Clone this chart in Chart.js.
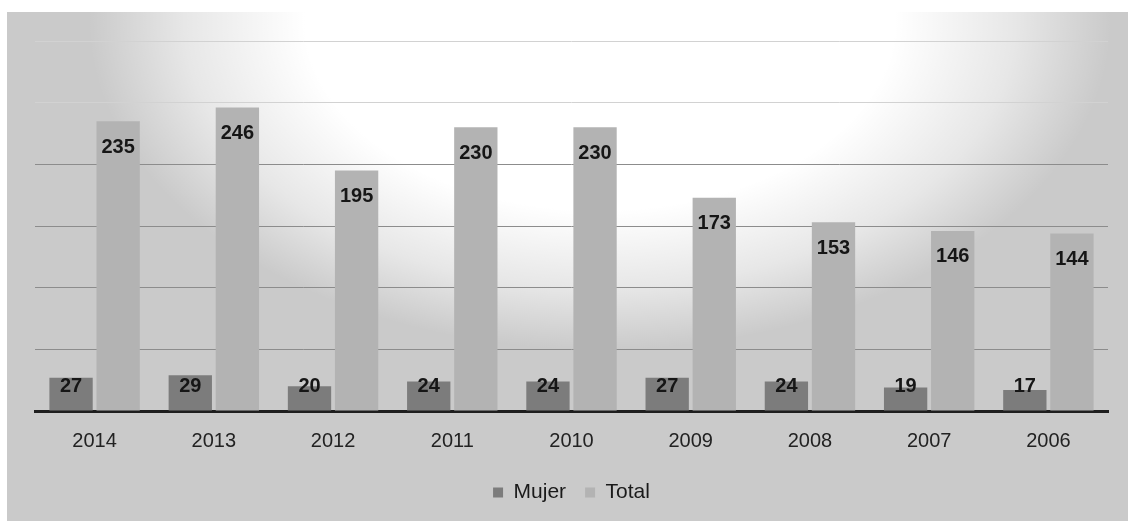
<html lang="es">
<head>
    <meta charset="UTF-8">
    <title>Mujer / Total</title>
    <script src="https://cdn.jsdelivr.net/npm/chart.js"></script>
    <style>
        body {
            margin: 0;
            padding: 0;
            background: #ffffff;
        }
        .wrap {
            width: 1128px;
            height: 521px;
        }
    </style>
</head>
<body>
    <div class="wrap">
        <canvas id="chart"></canvas>
    </div>

    <script>
        const years = ['2014', '2013', '2012', '2011', '2010', '2009', '2008', '2007', '2006'];
        const mujer = [27, 29, 20, 24, 24, 27, 24, 19, 17];
        const total = [235, 246, 195, 230, 230, 173, 153, 146, 144];
        const yTicks = [0, 50, 100, 150, 200, 250, 300];

        // scanned-paper look: grey sheet with a lighter patch up top
        const paper = {
            id: 'paper',
            beforeDraw(chart) {
                const ctx = chart.ctx;
                const w = chart.width, h = chart.height;
                ctx.save();
                ctx.fillStyle = '#ffffff';
                ctx.fillRect(0, 0, w, h);
                ctx.fillStyle = '#cacaca';
                ctx.fillRect(7, 12, w - 7, h - 12);
                ctx.beginPath();
                ctx.rect(7, 12, w - 7, h - 12);
                ctx.clip();
                // wide ellipse: squash the radial gradient vertically
                ctx.translate(600, 20);
                ctx.scale(1.55, 1);
                const g = ctx.createRadialGradient(0, 0, 20, 0, 0, 330);
                g.addColorStop(0, 'rgba(255,255,255,1)');
                g.addColorStop(0.55, 'rgba(255,255,255,1)');
                g.addColorStop(0.8, 'rgba(255,255,255,0.55)');
                g.addColorStop(1, 'rgba(255,255,255,0)');
                ctx.fillStyle = g;
                ctx.fillRect(-400, -40, 800, 400);
                ctx.restore();
            }
        };

        // value labels inside the top of each bar
        const barLabels = {
            id: 'barLabels',
            afterDatasetsDraw(chart) {
                const ctx = chart.ctx;
                ctx.save();
                ctx.font = 'bold 20px "Liberation Sans", Arial, sans-serif';
                ctx.fillStyle = '#161616';
                ctx.textAlign = 'center';
                ctx.textBaseline = 'middle';
                chart.data.datasets.forEach((ds, i) => {
                    chart.getDatasetMeta(i).data.forEach((bar, j) => {
                        const y = Math.min(bar.y + 26, bar.base - 24);
                        ctx.fillText(ds.data[j], bar.x, y);
                    });
                });
                ctx.restore();
            }
        };

        new Chart(document.getElementById('chart'), {
            type: 'bar',
            data: {
                labels: years,
                datasets: [{
                    label: 'Mujer',
                    data: mujer,
                    backgroundColor: '#7c7c7c',
                    categoryPercentage: 0.79,
                    barPercentage: 0.92
                }, {
                    label: 'Total',
                    data: total,
                    backgroundColor: '#b3b3b3',
                    categoryPercentage: 0.79,
                    barPercentage: 0.92
                }]
            },
            options: {
                responsive: true,
                maintainAspectRatio: false,
                animation: false,
                layout: {
                    padding: { left: 35, right: 20, top: 41, bottom: 8 }
                },
                plugins: {
                    legend: {
                        position: 'bottom',
                        labels: {
                            boxWidth: 10,
                            boxHeight: 10,
                            padding: 19,
                            color: '#1a1a1a',
                            font: { family: '"Liberation Sans", Arial, sans-serif', size: 21 }
                        }
                    },
                    tooltip: { enabled: false }
                },
                scales: {
                    x: {
                        grid: { display: false },
                        border: { color: '#1e1e1e', width: 3 },
                        ticks: {
                            color: '#222222',
                            padding: 10,
                            font: { family: '"Liberation Sans", Arial, sans-serif', size: 20 }
                        }
                    },
                    y: {
                        min: yTicks[0],
                        max: yTicks[yTicks.length - 1],
                        afterBuildTicks(axis) {
                            axis.ticks = yTicks.map(v => ({ value: v }));
                        },
                        ticks: { display: false },
                        border: { display: false },
                        grid: {
                            // the two top lines are washed out in the scan
                            color: c => c.tick && c.tick.value >= 250 ? '#d2d2d2' : '#8c8c8c',
                            lineWidth: 1,
                            drawTicks: false
                        }
                    }
                }
            },
            plugins: [paper, barLabels]
        });
    </script>
</body>
</html>
